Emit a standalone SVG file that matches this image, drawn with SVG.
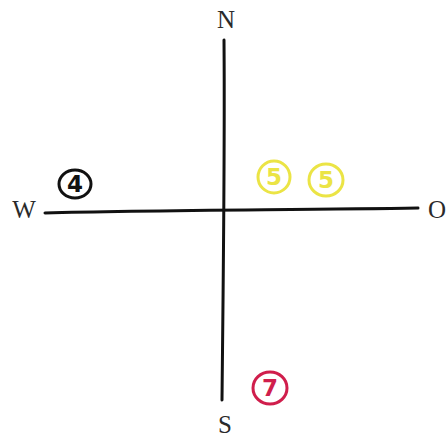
<svg xmlns="http://www.w3.org/2000/svg" width="447" height="438" viewBox="0 0 447 438">
<style>
.lbl{font-family:"Liberation Serif","Times New Roman",serif;font-size:25px;fill:#2a2a2a;text-anchor:middle}
.axis{stroke:#111;stroke-width:3;stroke-linecap:round;fill:none}
.mark ellipse{fill:none;stroke-width:3}
.mark text{font-family:"DejaVu Sans",sans-serif;font-size:23px;font-weight:bold;text-anchor:middle}
</style>
<rect width="447" height="438" fill="#fff"/>
<g id="connectors">
<path class="axis" d="M224,40 C225,150 223,300 222,400"/>
<path class="axis" d="M45,213 C150,210 300,210 418,208"/>
</g>
<g id="N"><text class="lbl" x="226" y="28">N</text></g>
<g id="W"><text class="lbl" x="24" y="218">W</text></g>
<g id="S"><text class="lbl" x="225" y="433">S</text></g>
<g id="O"><text class="lbl" x="437" y="218">O</text></g>
<g id="m4" class="mark"><ellipse cx="75" cy="184" rx="16" ry="14" stroke="#111"/><text x="75" y="192" fill="#111">4</text></g>
<g id="m5a" class="mark"><ellipse cx="274" cy="177" rx="16" ry="16" stroke="#ebe445"/><text x="274" y="185" fill="#ebe445">5</text></g>
<g id="m5b" class="mark"><ellipse cx="326" cy="180" rx="17" ry="16" stroke="#ebe445"/><text x="326" y="188" fill="#ebe445">5</text></g>
<g id="m7" class="mark"><ellipse cx="270" cy="388" rx="17" ry="16" stroke="#d01e4c"/><text x="270" y="396" fill="#d01e4c">7</text></g>
</svg>
